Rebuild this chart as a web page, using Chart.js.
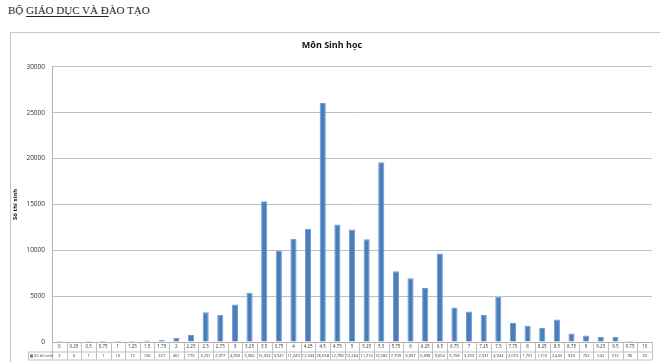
<!DOCTYPE html>
<html>
<head>
<meta charset="utf-8">
<script src="https://cdn.jsdelivr.net/npm/chart.js@4"></script>
<style>
  html, body { margin: 0; padding: 0; background: #fff; }
  body { width: 660px; height: 362px; position: relative; overflow: hidden; }
  #head { position: absolute; left: 8px; top: 4px; font: 11px 'Liberation Serif', 'DejaVu Serif', serif; color: #222; white-space: nowrap; }
  #head span { text-decoration: underline; text-underline-offset: 2px; }
  #frame { position: absolute; left: 10px; top: 32px; width: 700px; height: 400px; border: 1px solid #c8c8c8; box-sizing: border-box; }
  #wrap { position: absolute; left: 0; top: 0; width: 660px; height: 362px; }
</style>
</head>
<body>
<div id="head">BỘ <span>GIÁO DỤC VÀ Đ</span>ÀO TẠO</div>
<div id="frame"></div>
<div id="wrap"><canvas id="c"></canvas></div>
<script>
// Điểm thi môn Sinh học
const scores = ['0','0.25','0.5','0.75','1','1.25','1.5','1.75','2','2.25','2.5','2.75','3','3.25','3.5','3.75','4','4.25','4.5','4.75','5','5.25','5.5','5.75','6','6.25','6.5','6.75','7','7.25','7.5','7.75','8','8.25','8.5','8.75','9','9.25','9.5','9.75','10'];
const counts = [3,0,1,1,10,12,156,227,461,770,3231,2977,4093,5366,15333,9941,11249,12343,26058,12798,12264,11210,19582,7709,6937,5898,9654,3758,3333,2931,4944,2073,1761,1515,2443,930,702,542,572,96,33];
const seriesName = 'Số thí sinh';
const yTicks = [0,5000,10000,15000,20000,25000,30000];

const blue = '#4a7ebb';
const lineCol = '#c0c0c0';
const fmt = v => v.toLocaleString('en-US');

// bảng dữ liệu dưới trục x
const dataTable = {
  id: 'dataTable',
  afterDraw(chart) {
    const { ctx, scales: { x } } = chart;
    const n = scores.length;
    const w = x.width / n;
    const top = x.top, mid = top + 9.5, bot = mid + 8;
    ctx.save();
    ctx.strokeStyle = lineCol;
    ctx.lineWidth = 1;
    ctx.beginPath();
    ctx.moveTo(28, mid + 0.5); ctx.lineTo(x.right, mid + 0.5);
    ctx.moveTo(28, bot + 0.5); ctx.lineTo(x.right, bot + 0.5);
    ctx.moveTo(28.5, mid); ctx.lineTo(28.5, bot);
    for (let i = 0; i <= n; i++) {
      const px = Math.round(x.left + i * w) + 0.5;
      ctx.moveTo(px, top); ctx.lineTo(px, bot);
    }
    ctx.stroke();
    // ô chú thích
    ctx.fillStyle = blue;
    ctx.fillRect(30, mid + 3, 3, 3);
    ctx.fillStyle = '#333';
    ctx.font = '4px "Open Sans", sans-serif';
    ctx.textBaseline = 'middle';
    ctx.textAlign = 'left';
    ctx.fillText(seriesName, 34, mid + 4.5);
    ctx.textAlign = 'center';
    counts.forEach((v, i) => {
      ctx.fillText(fmt(v), x.getPixelForValue(i), mid + 4.5);
    });
    ctx.restore();
  }
};

new Chart(document.getElementById('c'), {
  type: 'bar',
  data: {
    labels: scores,
    datasets: [{
      label: seriesName,
      data: counts,
      backgroundColor: blue,
      borderColor: '#6f9bd3',
      borderWidth: { left: 1, right: 1, top: 1, bottom: 0 },
      barPercentage: 0.42,
      categoryPercentage: 1
    }]
  },
  options: {
    responsive: true,
    maintainAspectRatio: false,
    animation: false,
    layout: { padding: { left: 12, right: 8, top: 34, bottom: 0 } },
    plugins: {
      legend: { display: false },
      tooltip: { enabled: false },
      title: {
        display: true,
        text: 'Môn Sinh học',
        color: '#111',
        font: { family: "'Open Sans', sans-serif", size: 9, weight: 'bold' },
        padding: { top: 6, bottom: 16 }
      }
    },
    scales: {
      x: {
        grid: { display: false, drawTicks: false },
        border: { display: true, color: '#b0b0b0' },
        ticks: {
          color: '#333',
          font: { family: "'Open Sans', sans-serif", size: 4.5 },
          padding: 2,
          maxRotation: 0,
          autoSkip: false
        },
        afterFit: s => { s.height = 20; }
      },
      y: {
        min: 0,
        max: 30000,
        afterBuildTicks: s => { s.ticks = yTicks.map(v => ({ value: v })); },
        grid: { color: lineCol, drawTicks: false },
        border: { display: true, color: '#b0b0b0' },
        ticks: {
          color: '#333',
          font: { family: "'Open Sans', sans-serif", size: 6.5 },
          padding: 7,
          callback: v => String(v)
        },
        title: {
          display: true,
          text: seriesName,
          color: '#111',
          font: { family: "'Open Sans', sans-serif", size: 6, weight: 'bold' },
          padding: 0
        },
        afterFit: s => { s.width = 40; }
      }
    }
  },
  plugins: [dataTable]
});
</script>
</body>
</html>
